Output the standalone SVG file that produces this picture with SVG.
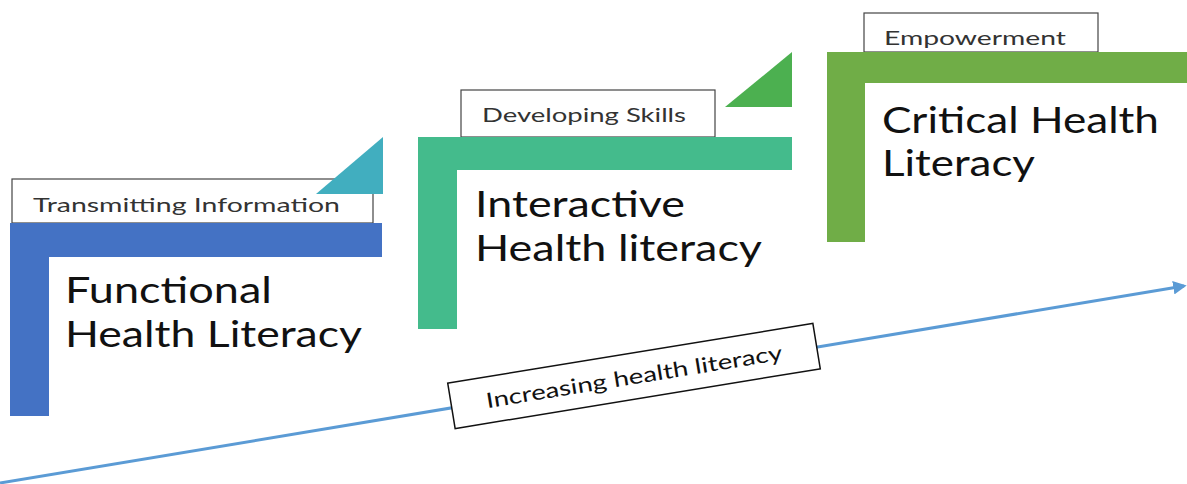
<svg xmlns="http://www.w3.org/2000/svg" width="1187" height="484" viewBox="0 0 1187 484">
<defs>
<style>
.lbl{fill:#fff;stroke:#444;stroke-width:1.2}
.lt{font-family:Lato,"Open Sans",sans-serif;font-size:20px;fill:#333}
.big{font-family:Lato,"Open Sans",sans-serif;font-size:36px;fill:#111}
.conn{stroke:#5B9BD5;stroke-width:3;fill:none}
</style>
<marker id="ah" viewBox="0 0 10 10" refX="8" refY="5" markerWidth="4.5" markerHeight="4.5" orient="auto" markerUnits="strokeWidth">
<path d="M0,0 L10,5 L0,10 z" fill="#5B9BD5"/>
</marker>
</defs>
<rect width="1187" height="484" fill="#fff"/>
<g id="connectors">
<line class="conn" x1="0" y1="483" x2="1184" y2="286" marker-end="url(#ah)"/>
</g>
<g id="increasing">
<g transform="translate(634,376) rotate(-9.3)">
<rect x="-185" y="-23" width="370" height="46" fill="#fff" stroke="#111" stroke-width="1.5"/>
<text x="0" y="8" text-anchor="middle" font-family="Lato, Open Sans, sans-serif" font-size="21" fill="#111" textLength="300" lengthAdjust="spacingAndGlyphs">Increasing health literacy</text>
</g>
</g>
<g id="functional">
<rect class="lbl" x="12" y="179" width="361" height="44"/>
<text class="lt" x="33" y="212" textLength="307" lengthAdjust="spacingAndGlyphs">Transmitting Information</text>
<polygon points="316,194 383,137 383,194" fill="#41AEBF"/>
<path d="M10,223 H382 V257 H49 V416 H10 Z" fill="#4472C4"/>
<text class="big" x="65" y="303" textLength="207" lengthAdjust="spacingAndGlyphs">Functional</text>
<text class="big" x="65" y="347" textLength="297" lengthAdjust="spacingAndGlyphs">Health Literacy</text>
</g>
<g id="interactive">
<rect class="lbl" x="461" y="90" width="254" height="47"/>
<text class="lt" x="482" y="122" textLength="204" lengthAdjust="spacingAndGlyphs">Developing Skills</text>
<polygon points="725,107 792,52 792,107" fill="#4CB050"/>
<path d="M418,137 H792 V170 H457 V329 H418 Z" fill="#44BB8C"/>
<text class="big" x="475" y="217" textLength="210" lengthAdjust="spacingAndGlyphs">Interactive</text>
<text class="big" x="475" y="261" textLength="287" lengthAdjust="spacingAndGlyphs">Health literacy</text>
</g>
<g id="critical">
<rect class="lbl" x="864" y="13" width="234" height="39"/>
<text class="lt" x="884" y="45" textLength="182" lengthAdjust="spacingAndGlyphs">Empowerment</text>
<path d="M827,52 H1187 V83 H865 V242 H827 Z" fill="#70AD47"/>
<text class="big" x="882" y="133" textLength="277" lengthAdjust="spacingAndGlyphs">Critical Health</text>
<text class="big" x="882" y="176" textLength="153" lengthAdjust="spacingAndGlyphs">Literacy</text>
</g>
</svg>
